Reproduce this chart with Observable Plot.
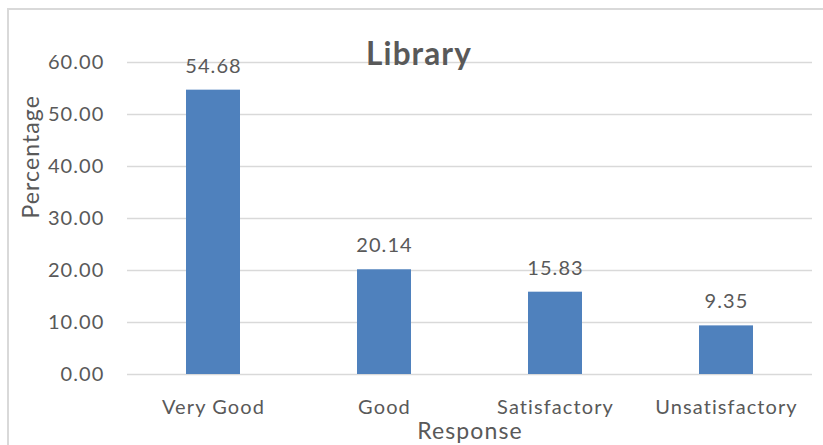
<!DOCTYPE html>
<html>
<head>
<meta charset="utf-8">
<script src="https://cdn.jsdelivr.net/npm/d3@7"></script>
<script src="https://cdn.jsdelivr.net/npm/@observablehq/plot@0.6"></script>
<style>
  html, body { margin: 0; padding: 0; background: #fff; overflow: hidden; }
  #wrap { position: relative; width: 823px; height: 445px; }
  #border { position: absolute; left: 7px; top: 8px; width: 900px; height: 600px;
            border-left: 2px solid #d9d9d9; border-top: 2px solid #d9d9d9; pointer-events: none; }
</style>
</head>
<body>
<div id="wrap"><div id="border"></div></div>
<script>
const categories = ["Very Good", "Good", "Satisfactory", "Unsatisfactory"];
const values = [54.68, 20.14, 15.83, 9.35];
const yTicks = [0, 10, 20, 30, 40, 50, 60];
const title = "Library";
const xLabel = "Response";
const yLabel = "Percentage";

const data = categories.map((c, i) => ({category: c, value: values[i]}));
const font = "Lato, 'Open Sans', sans-serif";
const textColor = "#595959";

const chart = Plot.plot({
  width: 823,
  height: 445,
  marginTop: 62,
  marginBottom: 71,
  marginLeft: 127,
  marginRight: 11,
  style: {fontFamily: font, fontSize: "20px", color: textColor, background: "transparent",
          letterSpacing: "1.1px"},
  x: {domain: categories, paddingInner: 0.687, paddingOuter: 0.3435, align: 0.5, label: null},
  y: {domain: [0, 60], label: null},
  marks: [
    Plot.ruleY(yTicks, {stroke: "#d9d9d9", strokeWidth: 1.5}),
    Plot.barY(data, {x: "category", y: "value", fill: "#4f81bd"}),
    Plot.text(data, {x: "category", y: "value", text: d => d.value.toFixed(2), dy: -24,
      fill: textColor, fontSize: 20}),
    Plot.axisY({ticks: yTicks, tickFormat: d => d.toFixed(2), tickSize: 0, tickPadding: 23,
      fontSize: 20, fill: textColor, label: null}),
    Plot.axisX({tickSize: 0, tickPadding: 25, fontSize: 20, fill: textColor, label: null}),
    Plot.text([title], {frameAnchor: "top", dx: -51, dy: -8, fontSize: 31.5, fontWeight: "bold",
      fill: textColor, lineAnchor: "middle"}),
    Plot.text([yLabel], {frameAnchor: "left", dx: -96, rotate: -90, fontSize: 23, fill: textColor,
      lineAnchor: "middle"}),
    Plot.text([xLabel], {frameAnchor: "bottom", dx: 0, dy: 57, fontSize: 23, fill: textColor,
      lineAnchor: "middle"})
  ]
});
chart.style.position = "absolute";
chart.style.left = "0px";
chart.style.top = "0px";
document.getElementById("wrap").prepend(chart);
</script>
</body>
</html>
